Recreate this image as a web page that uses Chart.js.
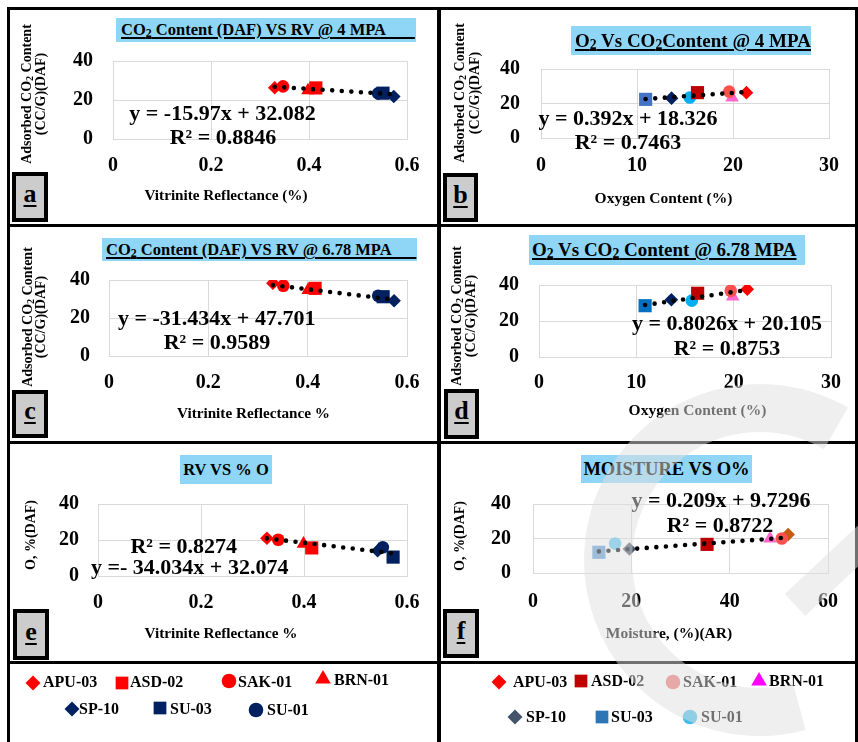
<!DOCTYPE html>
<html>
<head>
<meta charset="utf-8">
<title>Adsorbed CO2, oxygen and moisture versus vitrinite reflectance</title>
<script src="https://cdn.jsdelivr.net/npm/chart.js@4.4.1/dist/chart.umd.min.js"></script>
<style>
  html, body { margin:0; padding:0; background:#fff; }
  #fig { position:relative; width:858px; height:742px; overflow:hidden; background:#fff;
         font-family:"Liberation Serif","Times New Roman",serif; font-weight:bold; color:#000; }
  #fig canvas { position:absolute; }
  .rule { position:absolute; background:#000; }
  .head { position:absolute; background:#8fd6f6; white-space:pre; box-sizing:border-box; }
  .u { text-decoration:underline; text-decoration-thickness:2px; text-underline-offset:2px; }
  .t { position:absolute; white-space:pre; line-height:1; transform:translate(-50%,-50%); }
  .lt { position:absolute; white-space:pre; line-height:1; transform:translate(0,-50%); font-size:16px; }
  .v { position:absolute; white-space:pre; text-align:center; transform:translate(-50%,-50%) rotate(-90deg); }
  .tag { position:absolute; box-sizing:border-box; border:4px solid #000; background:#cccccc;
         display:flex; align-items:center; justify-content:center; }
  .tag span { font-size:26px; text-decoration:underline; text-decoration-thickness:2px;
              text-underline-offset:3px; line-height:1; margin-top:-6px; }
  sub { font-size:0.72em; vertical-align:-0.18em; line-height:0; }
</style>
</head>
<body>
<div id="fig"></div>
<script>
// ---- samples (same order in every array) ----
const SAMPLES = ['APU-03', 'ASD-02', 'SAK-01', 'BRN-01', 'SP-10', 'SU-03', 'SU-01'];
const SHAPES  = ['rectRot', 'rect', 'circle', 'triangle', 'rectRot', 'rect', 'circle'];

// (a) vitrinite reflectance vs adsorbed CO2 @ 4 MPa
const rvA   = [0.330, 0.414, 0.347, 0.398, 0.573, 0.551, 0.541];
const co2A  = [26.3, 26.2, 27.0, 24.9, 21.8, 23.5, 23.4];
const fitA  = [-15.97, 32.082];
// (b) oxygen content vs adsorbed CO2 @ 4 MPa
const oxB   = [21.4, 16.3, 19.6, 19.9, 13.6, 10.9, 15.5];
const co2B  = [26.3, 26.3, 26.9, 23.4, 23.1, 22.4, 23.5];
const fitB  = [0.392, 18.326];
// (c) vitrinite reflectance vs adsorbed CO2 @ 6.78 MPa
const rvC   = [0.330, 0.415, 0.351, 0.401, 0.574, 0.552, 0.542];
const co2C  = [38.3, 35.6, 37.0, 34.7, 29.1, 31.2, 31.7];
const fitC  = [-31.434, 47.701];
// (d) oxygen content vs adsorbed CO2 @ 6.78 MPa
const oxD   = [21.4, 16.3, 19.7, 19.9, 13.6, 10.9, 15.7];
const co2D  = [37.7, 35.4, 36.8, 33.6, 31.8, 28.5, 31.3];
const fitD  = [0.8026, 20.105];
// (e) vitrinite reflectance vs oxygen
const rvE   = [0.328, 0.415, 0.350, 0.399, 0.543, 0.573, 0.553];
const oxE   = [21.0, 15.6, 20.1, 17.9, 14.0, 10.5, 16.0];
const fitE  = [-34.034, 32.074];
// (f) moisture vs oxygen
const moistF = [51.9, 35.4, 50.6, 48.2, 19.6, 13.4, 16.7];
const oxF    = [22.3, 16.6, 20.0, 20.0, 13.9, 12.0, 17.1];
const fitF   = [0.209, 9.7296];

// ---- axis ticks ----
const rvTicks    = [0, 0.2, 0.4, 0.6];
const rvLabels   = ['0', '0.2', '0.4', '0.6'];
const oxTicks    = [0, 10, 20, 30];
const oxLabels   = ['0', '10', '20', '30'];
const moistTicks = [0, 20, 40, 60];
const moistLabels= ['0', '20', '40', '60'];
const yTicks     = [0, 20, 40];
const yLabels    = ['0', '20', '40'];

// ---- marker colours ----
const leftColors = ['#ff0000', '#ff0000', '#ff0000', '#ff0000', '#002060', '#002060', '#002060'];
const bColors    = ['#ff0000', '#c00000', '#ff5050', '#ff66cc', '#002060', '#4472c4', '#00b0f0'];
const dColors    = ['#ff0000', '#c00000', '#ff5050', '#ff66cc', '#002060', '#0070c0', '#00b0f0'];
const fColors    = ['#c55a11', '#c00000', '#ff5050', '#ff66cc', '#44546a', '#5b9bd5', '#5bc5f0'];
const LAYER      = [3, 2, 1, 4, 5, 6, 7];           // higher = drawn further back
const RADIUS     = { circle: 6.3, rect: 9.3, rectRot: 6.8, triangle: 7.8 };

const fig = document.getElementById('fig');
const FONT = '"Liberation Serif", "Times New Roman", serif';

function el(cls, html, x, y, size, style) {
  const d = document.createElement('div');
  d.className = cls;
  d.innerHTML = html;
  d.style.left = x + 'px';
  d.style.top = y + 'px';
  if (size) d.style.fontSize = size + 'px';
  if (style) Object.assign(d.style, style);
  fig.appendChild(d);
  return d;
}

function rule(x, y, w, h) { el('rule', '', x, y, 0, { width: w + 'px', height: h + 'px' }); }

function head(x, y, w, h, html, size, padLeft) {
  el('head', '<span class="u">' + html + '</span>', x, y, size,
     { width: w + 'px', height: h + 'px', lineHeight: h + 'px', paddingLeft: padLeft + 'px' });
}
function plainHead(x, y, w, h, html, size) {
  el('head', html, x, y, size,
     { width: w + 'px', height: h + 'px', lineHeight: h + 'px', textAlign: 'center' });
}

function tag(x, y, w, h, letter) {
  el('tag', '<span>' + letter + '</span>', x, y, 0, { width: w + 'px', height: h + 'px' });
}

function scatterPanel(p) {
  const cv = document.createElement('canvas');
  cv.width = p.box.w; cv.height = p.box.h;
  cv.style.left = p.box.x + 'px'; cv.style.top = p.box.y + 'px';
  cv.style.width = p.box.w + 'px'; cv.style.height = p.box.h + 'px';
  fig.appendChild(cv);

  const left   = p.plot.l - p.box.x;
  const top    = p.plot.t - p.box.y;
  const right  = p.box.x + p.box.w - p.plot.r;
  const bottom = p.box.y + p.box.h - p.plot.b;

  const datasets = SAMPLES.map((name, i) => ({
    label: name,
    data: [{ x: p.xs[i], y: p.ys[i] }],
    pointStyle: SHAPES[i],
    pointRadius: RADIUS[SHAPES[i]],
    backgroundColor: p.colors[i],
    borderColor: p.colors[i],
    borderWidth: 0,
    order: LAYER[i]
  }));

  // linear trend line through the fitted equation, over the sampled range
  const x0 = Math.min(...p.xs), x1 = Math.max(...p.xs);
  datasets.push({
    label: 'Linear',
    data: [{ x: x0, y: p.fit[0] * x0 + p.fit[1] }, { x: x1, y: p.fit[0] * x1 + p.fit[1] }],
    showLine: true,
    borderColor: '#000',
    borderWidth: 4.6,
    borderDash: [0, 9.6],
    borderCapStyle: 'round',
    pointRadius: 0,
    order: 0
  });

  const tickFont = { family: FONT, size: 20, weight: 'bold' };
  const gridCol = '#d9d9d9';

  new Chart(cv, {
    type: 'scatter',
    data: { datasets },
    options: {
      responsive: false,
      animation: false,
      devicePixelRatio: 1,
      layout: { padding: { left: 0, top: top, right: right, bottom: 0 } },
      plugins: { legend: { display: false }, tooltip: { enabled: false } },
      scales: {
        x: {
          type: 'linear',
          min: p.xTicks[0], max: p.xTicks[p.xTicks.length - 1],
          afterBuildTicks: ax => { ax.ticks = p.xTicks.map(v => ({ value: v })); },
          afterFit: ax => { ax.height = bottom; },
          grid: { color: gridCol, drawTicks: false },
          border: { color: gridCol },
          ticks: { color: '#000', font: tickFont, padding: p.xPad, maxRotation: 0,
                   autoSkip: false, callback: (v, i) => p.xLabels[i] }
        },
        y: {
          type: 'linear',
          min: yTicks[0], max: yTicks[yTicks.length - 1],
          afterBuildTicks: ax => { ax.ticks = yTicks.map(v => ({ value: v })); },
          afterFit: ax => { ax.width = left; },
          grid: { color: gridCol, drawTicks: false },
          border: { color: gridCol },
          ticks: { color: '#000', font: tickFont, padding: p.yPad,
                   autoSkip: false, callback: (v, i) => yLabels[i] }
        }
      }
    }
  });
}

// ---- frame ----
rule(7, 7, 851, 3);
rule(7, 7, 3, 735);
rule(855, 7, 3, 735);
rule(437, 7, 4, 735);
rule(7, 224, 851, 3);
rule(7, 441, 851, 3);
rule(7, 661, 851, 3);

// ---- panels ----
const LBX = 10, LBW = 427, RBX = 441, RBW = 414;

scatterPanel({ box: { x: LBX, y: 10, w: LBW, h: 214 }, plot: { l: 113, t: 61, r: 407, b: 139 },
  xs: rvA, ys: co2A, fit: fitA, xTicks: rvTicks, xLabels: rvLabels, colors: leftColors, xPad: 15, yPad: 20 });
scatterPanel({ box: { x: RBX, y: 10, w: RBW, h: 214 }, plot: { l: 541, t: 69, r: 841, b: 138 },
  xs: oxB, ys: co2B, fit: fitB, xTicks: oxTicks, xLabels: oxLabels, colors: bColors, xPad: 16, yPad: 21 });
scatterPanel({ box: { x: LBX, y: 227, w: LBW, h: 214 }, plot: { l: 109, t: 280, r: 407, b: 356 },
  xs: rvC, ys: co2C, fit: fitC, xTicks: rvTicks, xLabels: rvLabels, colors: leftColors, xPad: 15, yPad: 19 });
scatterPanel({ box: { x: RBX, y: 227, w: RBW, h: 214 }, plot: { l: 539, t: 285, r: 841, b: 357 },
  xs: oxD, ys: co2D, fit: fitD, xTicks: oxTicks, xLabels: oxLabels, colors: dColors, xPad: 14, yPad: 20 });
scatterPanel({ box: { x: LBX, y: 444, w: LBW, h: 217 }, plot: { l: 98, t: 504, r: 407, b: 576 },
  xs: rvE, ys: oxE, fit: fitE, xTicks: rvTicks, xLabels: rvLabels, colors: leftColors, xPad: 15, yPad: 19 });
scatterPanel({ box: { x: RBX, y: 444, w: RBW, h: 217 }, plot: { l: 533, t: 504, r: 840, b: 573 },
  xs: moistF, ys: oxF, fit: fitF, xTicks: moistTicks, xLabels: moistLabels, colors: fColors, xPad: 17, yPad: 22 });

// ---- panel headings ----
const SP = '\u00a0';
head(116, 18, 300, 24, 'CO<sub>2</sub> Content (DAF) VS RV @ 4 MPA' + SP.repeat(7), 16.5, 5);
head(571, 26, 240, 29, 'O<sub>2</sub> Vs CO<sub>2</sub>Content @ 4 MPA', 19, 4);
head(102, 238, 315, 23, 'CO<sub>2</sub> Content (DAF) VS RV @ 6.78 MPA' + SP.repeat(6), 16.5, 4);
head(529, 235, 276, 30, 'O<sub>2</sub> Vs CO<sub>2</sub> Content @ 6.78 MPA', 19, 3);
plainHead(180, 455, 92, 29, 'RV VS % O', 16.5);
plainHead(581, 455, 171, 28, 'MOISTURE VS O%', 18.5);

// ---- fitted equations ----
el('t', 'y = -15.97x + 32.082', 222.5, 112.5, 22);
el('t', 'R² = 0.8846', 223, 137, 22);
el('t', 'y = 0.392x + 18.326', 628, 118.3, 22);
el('t', 'R² = 0.7463', 628, 142.3, 22);
el('t', 'y = -31.434x + 47.701', 216.7, 318.3, 22);
el('t', 'R² = 0.9589', 217, 341.7, 22);
el('t', 'y = 0.8026x + 20.105', 727, 323.3, 22);
el('t', 'R² = 0.8753', 727, 347.5, 22);
el('t', 'R² = 0.8274', 183.7, 545.8, 22);
el('t', 'y =- 34.034x + 32.074', 189.7, 567.2, 22);
el('t', 'y = 0.209x + 9.7296', 721, 500, 22);
el('t', 'R² = 0.8722', 720, 524.7, 22);

// ---- axis titles ----
el('t', 'Vitrinite Reflectance (%)', 226, 195, 15.2);
el('t', 'Oxygen Content (%)', 663.5, 197.5, 15.5);
el('t', 'Vitrinite Reflectance %', 253.5, 413, 15.2);
el('t', 'Oxygen Content (%)', 697.5, 410, 15.5);
el('t', 'Vitrinite Reflectance %', 221, 633, 15.2);
el('t', 'Moisture, (%)(AR)', 669, 633, 15.5);

const co2Title = 'Adsorbed CO<sub>2</sub> Content<br>(CC/G)(DAF)';
el('v', co2Title, 34, 94, 14, { lineHeight: '14px' });
el('v', co2Title, 466.5, 93, 14, { lineHeight: '15px' });
el('v', co2Title, 33.5, 317, 14, { lineHeight: '13px' });
el('v', co2Title, 464, 316, 14, { lineHeight: '14px' });
el('v', 'O, %(DAF)', 31, 535, 14, { lineHeight: '14px' });
el('v', 'O, %(DAF)', 460, 536, 14, { lineHeight: '14px' });

// ---- panel letters ----
tag(12, 172, 36, 50, 'a');
tag(443, 173, 35, 49, 'b');
tag(12, 390, 36, 48, 'c');
tag(444, 389, 35, 50, 'd');
tag(13, 609, 36, 51, 'e');
tag(443, 609, 36, 49, 'f');

// ---- legends ----
const legLeftColors  = ['#ff0000', '#ff0000', '#ff0000', '#ff0000', '#002060', '#002060', '#002060'];
const legRightColors = ['#ff0000', '#c00000', '#f07070', '#ff00ff', '#44546a', '#2e75b6', '#3fbcea'];
const LEG_RADIUS     = { circle: 7.3, rect: 9, rectRot: 7.5, triangle: 9 };
// marker centre and label start for each sample
const legLeftPos  = [[33, 683, 43, 682], [122, 683, 130, 682], [229, 681, 238, 682], [323, 679, 334, 680],
                     [72, 709, 79, 709], [160, 708, 170, 709], [256, 710, 267, 710]];
const legRightPos = [[499, 682, 513, 682], [581, 681, 591, 681], [673, 682, 683, 682], [759, 681, 769, 681],
                     [515, 717, 526, 717], [602, 717, 611, 717], [690, 717, 701, 717]];

const leg = document.createElement('canvas');
leg.width = 858; leg.height = 742;
leg.style.left = '0px'; leg.style.top = '0px';
fig.appendChild(leg);
const lctx = leg.getContext('2d');

function marker(ctx, style, r, x, y, color) {
  ctx.fillStyle = color;
  if (Chart.helpers && Chart.helpers.drawPoint) {
    Chart.helpers.drawPoint(ctx, { pointStyle: style, radius: r, rotation: 0, borderWidth: 0 }, x, y);
    return;
  }
  ctx.beginPath();
  if (style === 'circle') ctx.arc(x, y, r, 0, Math.PI * 2);
  else if (style === 'rect') { const s = r * Math.SQRT1_2; ctx.rect(x - s, y - s, 2 * s, 2 * s); }
  else if (style === 'rectRot') { ctx.moveTo(x, y - r); ctx.lineTo(x + r, y); ctx.lineTo(x, y + r); ctx.lineTo(x - r, y); }
  else { ctx.moveTo(x, y - r); ctx.lineTo(x + r * 0.866, y + r / 2); ctx.lineTo(x - r * 0.866, y + r / 2); }
  ctx.closePath();
  ctx.fill();
}

SAMPLES.forEach((name, i) => {
  const a = legLeftPos[i], b = legRightPos[i];
  marker(lctx, SHAPES[i], LEG_RADIUS[SHAPES[i]], a[0], a[1], legLeftColors[i]);
  marker(lctx, SHAPES[i], LEG_RADIUS[SHAPES[i]], b[0], b[1], legRightColors[i]);
  el('lt', name, a[2], a[3]);
  el('lt', name, b[2], b[3]);
});

// ---- faint publisher mark over the lower right ----
const wm = document.createElement('canvas');
wm.width = 858; wm.height = 742;
wm.style.left = '0px'; wm.style.top = '0px'; wm.style.pointerEvents = 'none';
fig.appendChild(wm);
const w = wm.getContext('2d');
w.strokeStyle = 'rgba(223,223,223,0.5)';
w.lineWidth = 48;
w.beginPath();
w.arc(760, 560, 152, Math.PI * 75 / 180, Math.PI * 300 / 180);
w.stroke();
w.lineWidth = 30;
w.beginPath();
w.moveTo(795, 605);
w.lineTo(875, 530);
w.stroke();
</script>
</body>
</html>
